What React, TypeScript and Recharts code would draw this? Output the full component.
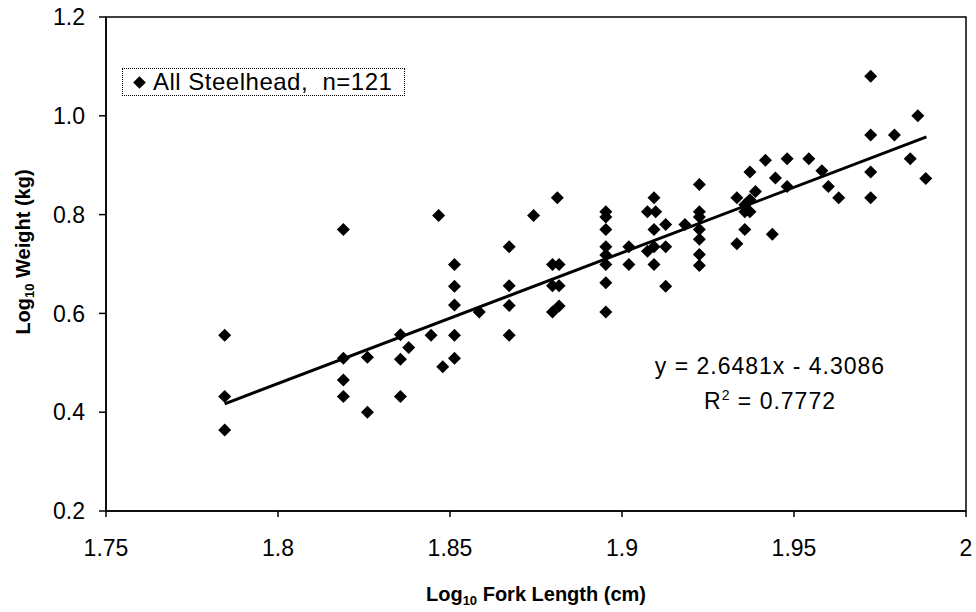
import { ScatterChart, Scatter, XAxis, YAxis, ReferenceLine, ReferenceArea, Label } from "recharts";

const FONT = "'Liberation Sans', Arial, sans-serif";

// log10 fork length (cm) and log10 weight (kg), one entry per fish
const logForkLength = [
  1.7845, 1.7845, 1.7845,
  1.819, 1.819, 1.819, 1.819,
  1.826, 1.826,
  1.8356, 1.8356, 1.8356,
  1.838, 1.8445, 1.8467, 1.8479,
  1.8513, 1.8513, 1.8513, 1.8513, 1.8513,
  1.8585,
  1.8672, 1.8672, 1.8672, 1.8672,
  1.8743,
  1.8798, 1.8798, 1.8798,
  1.8812,
  1.8817, 1.8817, 1.8817,
  1.8953, 1.8953, 1.8953, 1.8953, 1.8953, 1.8953, 1.8953, 1.8953,
  1.902, 1.902,
  1.9074, 1.9074,
  1.9093, 1.9093, 1.9093, 1.9093,
  1.9098,
  1.9127, 1.9127, 1.9127,
  1.9183,
  1.9225, 1.9225, 1.9225, 1.9225, 1.9225, 1.9225, 1.9225,
  1.9334, 1.9334,
  1.9357, 1.9357, 1.9357,
  1.9372, 1.9372, 1.9372,
  1.9388, 1.9417, 1.9437, 1.9446,
  1.948, 1.948,
  1.9543, 1.9581, 1.96, 1.963,
  1.9723, 1.9723, 1.9723, 1.9723,
  1.9792, 1.9838, 1.986, 1.9883,
];

const logWeight = [
  0.556, 0.432, 0.364,
  0.77, 0.509, 0.465, 0.432,
  0.511, 0.4,
  0.557, 0.507, 0.432,
  0.531, 0.556, 0.798, 0.492,
  0.699, 0.655, 0.617, 0.556, 0.509,
  0.603,
  0.735, 0.656, 0.616, 0.556,
  0.798,
  0.699, 0.656, 0.603,
  0.834,
  0.699, 0.656, 0.615,
  0.806, 0.795, 0.77, 0.735, 0.718, 0.699, 0.662, 0.603,
  0.735, 0.699,
  0.806, 0.726,
  0.834, 0.77, 0.735, 0.699,
  0.806,
  0.78, 0.735, 0.655,
  0.78,
  0.861, 0.806, 0.795, 0.77, 0.75, 0.719, 0.697,
  0.834, 0.741,
  0.82, 0.806, 0.77,
  0.886, 0.83, 0.806,
  0.847, 0.91, 0.76, 0.874,
  0.913, 0.857,
  0.913, 0.889, 0.857, 0.834,
  1.08, 0.961, 0.886, 0.834,
  0.961, 0.913, 1.0, 0.873,
];

const xTicks = [1.75, 1.8, 1.85, 1.9, 1.95, 2];
const yTicks = [0.2, 0.4, 0.6, 0.8, 1.0, 1.2];

// fitted line y = 2.6481x - 4.3086, drawn across the range of the data
const slope = 2.6481;
const intercept = -4.3086;
const rSquared = "0.7772";
const trendX = [1.7845, 1.9885];

const data = logForkLength.map((x, i) => ({ x, y: logWeight[i] }));
const trend = trendX.map((x) => ({ x, y: slope * x + intercept }));

function Diamond(props: any) {
  const { cx, cy } = props;
  if (cx == null || cy == null) return null;
  const r = 6.5;
  return <polygon points={`${cx},${cy - r} ${cx + r},${cy} ${cx},${cy + r} ${cx - r},${cy}`} fill="#000" />;
}

function XTitle(props: any) {
  const vb = props.viewBox ?? { x: 106, y: 511, width: 860, height: 101 };
  return (
    <text x={vb.x + vb.width / 2} y={vb.y + 90} textAnchor="middle" fontFamily={FONT} fontWeight="bold" fontSize={20} fill="#000">
      Log<tspan fontSize={13} dy={4}>10</tspan>
      <tspan dy={-4}> Fork Length (cm)</tspan>
    </text>
  );
}

function YTitle(props: any) {
  const vb = props.viewBox ?? { x: 0, y: 17, width: 106, height: 494 };
  const cx = vb.x + 30;
  const cy = vb.y + vb.height / 2 - 12;
  return (
    <text x={cx} y={cy} transform={`rotate(-90 ${cx} ${cy})`} textAnchor="middle" fontFamily={FONT} fontWeight="bold" fontSize={20} fill="#000">
      Log<tspan fontSize={13} dy={4}>10</tspan>
      <tspan dy={-4}> Weight (kg)</tspan>
    </text>
  );
}

const tickStyle = { fill: "#000", fontSize: 23, fontFamily: FONT };

export default function App() {
  return (
    <div style={{ position: "absolute", left: 0, top: 0, width: 976, height: 612, background: "#fff", fontFamily: FONT }}>
      <ScatterChart width={976} height={612} margin={{ top: 17, right: 10, bottom: 0, left: 0 }}>
        <XAxis
          type="number"
          dataKey="x"
          domain={[1.75, 2]}
          ticks={xTicks}
          tickFormatter={(v) => String(v)}
          height={101}
          tick={tickStyle}
          tickSize={6}
          tickMargin={23}
          axisLine={{ stroke: "#000", strokeWidth: 1.5 }}
          tickLine={{ stroke: "#000", strokeWidth: 1.5 }}
        >
          <Label content={XTitle} />
        </XAxis>
        <YAxis
          type="number"
          dataKey="y"
          domain={[0.2, 1.2]}
          ticks={yTicks}
          tickFormatter={(v) => Number(v).toFixed(1)}
          width={106}
          tick={tickStyle}
          tickSize={7}
          tickMargin={14}
          axisLine={{ stroke: "#000", strokeWidth: 1.5 }}
          tickLine={{ stroke: "#000", strokeWidth: 1.5 }}
        >
          <Label content={YTitle} />
        </YAxis>
        <ReferenceArea x1={1.75} x2={2} y1={0.2} y2={1.2} fill="none" stroke="#000" strokeWidth={1.5} />
        <ReferenceLine
          segment={[trend[0], trend[1]]}
          stroke="#000"
          strokeWidth={3}
        />
        <Scatter data={data} dataKey="y" shape={Diamond} isAnimationActive={false} />
      </ScatterChart>

      <div
        style={{
          position: "absolute",
          left: 122,
          top: 68,
          width: 283,
          height: 28,
          boxSizing: "border-box",
          border: "1px dotted #000",
          background: "#fff",
          display: "flex",
          alignItems: "center",
          paddingLeft: 12,
          fontSize: 24,
          letterSpacing: 0.5,
          whiteSpace: "pre",
          color: "#000",
        }}
      >
        <span style={{ display: "inline-block", width: 9, height: 9, background: "#000", transform: "rotate(45deg)", marginRight: 9 }} />
        <span>All Steelhead,  n=121</span>
      </div>

      <div
        style={{
          position: "absolute",
          left: 620,
          top: 349,
          width: 300,
          textAlign: "center",
          fontSize: 23,
          lineHeight: "35px",
          letterSpacing: 1,
          color: "#000",
          whiteSpace: "pre",
        }}
      >
        <div>{`y = ${slope}x - ${Math.abs(intercept)}`}</div>
        <div>
          R<sup style={{ fontSize: 14, verticalAlign: 0, position: "relative", top: -9 }}>2</sup>{` = ${rSquared}`}
        </div>
      </div>
    </div>
  );
}
